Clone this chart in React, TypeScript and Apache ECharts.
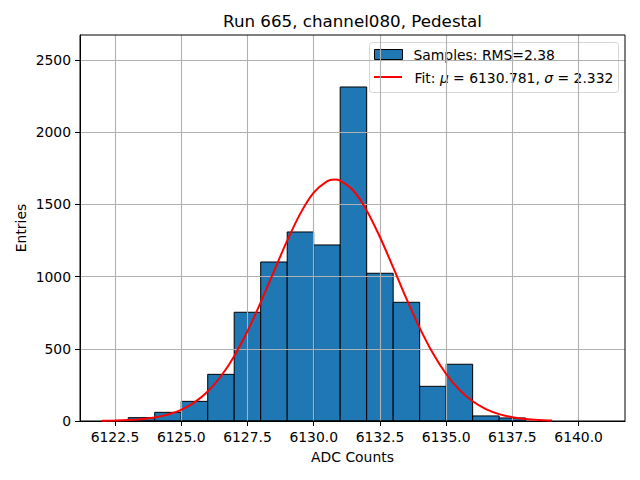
import React, { useEffect, useRef } from "react";
import * as echarts from "echarts";

// Histogram: bin edges (ADC counts) and entries per bin
const binEdges = [6123, 6124, 6125, 6126, 6127, 6128, 6129, 6130, 6131, 6132, 6133, 6134, 6135, 6136, 6137, 6138];
const binCounts = [23, 60, 136, 323, 753, 1101, 1309, 1219, 2313, 1023, 822, 240, 393, 35, 21];

const fitX = [
  6122.0, 6122.5, 6123.0, 6123.5, 6124.0, 6124.5, 6125.0, 6125.5, 6126.0, 6126.5,
  6127.0, 6127.5, 6128.0, 6128.5, 6129.0, 6129.5, 6130.0, 6130.5, 6130.781, 6131.0,
  6131.5, 6132.0, 6132.5, 6133.0, 6133.5, 6134.0, 6134.5, 6135.0, 6135.5, 6136.0,
  6136.5, 6137.0, 6137.5, 6138.0, 6138.5, 6139.0,
];
const fitY = [
  1.4, 3.1, 6.4, 12.8, 24.4, 44.5, 77.4, 128.7, 204.4, 310.0,
  448.9, 621.5, 821.1, 1036.3, 1249.0, 1437.8, 1580.9, 1660.0, 1672.0, 1664.6,
  1594.4, 1458.5, 1274.2, 1063.2, 847.2, 644.9, 468.8, 325.4, 215.7, 136.7,
  82.6, 47.7, 26.3, 13.9, 7.0, 3.4,
];

const xTicks = [6122.5, 6125.0, 6127.5, 6130.0, 6132.5, 6135.0, 6137.5, 6140.0];
const yTicks = [0, 500, 1000, 1500, 2000, 2500];

const titleText = "Run 665, channel080, Pedestal";
const xLabel = "ADC Counts";
const yLabel = "Entries";
const legendSamples = "Samples: RMS=2.38";

const FONT = "DejaVu Sans";

export default function App() {
  const ref = useRef<HTMLDivElement>(null);

  useEffect(() => {
    if (!ref.current) return;
    const chart = echarts.init(ref.current, null, { renderer: "svg" });

    const histData = binCounts.map((c, i) => [binEdges[i], binEdges[i + 1], c]);
    const fitData = fitX.map((x, i) => [x, fitY[i]]);

    const option: any = {
      animation: false,
      backgroundColor: "#ffffff",
      grid: {
        left: 80,
        top: 35,
        width: 545,
        height: 386,
        show: true,
        borderColor: "#000",
        borderWidth: 1,
        backgroundColor: "transparent",
        z: 3,
      },
      xAxis: {
        type: "value",
        min: 6121.18,
        max: 6141.75,
        z: 1,
        axisLine: { show: true, onZero: false, lineStyle: { color: "#000", width: 1 } },
        axisTick: {
          show: true,
          inside: false,
          length: 5,
          customValues: xTicks,
          lineStyle: { color: "#000", width: 1 },
        },
        axisLabel: {
          show: true,
          customValues: xTicks,
          margin: 9,
          color: "#000",
          fontFamily: FONT,
          fontSize: 13.9,
          formatter: (v: number) => v.toFixed(1),
        },
        splitLine: { show: true, lineStyle: { color: "#b0b0b0", width: 1.1 } },
      },
      yAxis: {
        type: "value",
        min: 0,
        max: 2673,
        z: 1,
        axisLine: { show: true, lineStyle: { color: "#000", width: 1 } },
        axisTick: {
          show: true,
          inside: false,
          length: 5,
          customValues: yTicks,
          lineStyle: { color: "#000", width: 1 },
        },
        axisLabel: {
          show: true,
          customValues: yTicks,
          margin: 9,
          color: "#000",
          fontFamily: FONT,
          fontSize: 13.9,
          formatter: (v: number) => String(Math.round(v)),
        },
        splitLine: { show: true, lineStyle: { color: "#b0b0b0", width: 1.1 } },
      },
      series: [
        {
          type: "custom",
          name: "Samples",
          z: 0,
          clip: true,
          data: histData,
          encode: { x: [0, 1], y: 2 },
          renderItem: (params: any, api: any) => {
            const x0 = api.value(0);
            const x1 = api.value(1);
            const y = api.value(2);
            const p0 = api.coord([x0, y]);
            const p1 = api.coord([x1, 0]);
            return {
              type: "rect",
              shape: { x: p0[0], y: p0[1], width: p1[0] - p0[0], height: p1[1] - p0[1] },
              style: { fill: "#1f77b4", stroke: "#000", lineWidth: 1 },
            };
          },
        },
        {
          type: "line",
          name: "Fit",
          z: 5,
          data: fitData,
          showSymbol: false,
          smooth: 0.3,
          lineStyle: { color: "#ff0000", width: 2 },
          itemStyle: { color: "#ff0000" },
        },
      ],
      graphic: [
        {
          type: "text",
          x: 352.5,
          y: 21,
          style: {
            text: titleText,
            fontFamily: FONT,
            fontSize: 16.7,
            fill: "#000",
            textAlign: "center",
            textVerticalAlign: "middle",
          },
        },
        {
          type: "text",
          x: 352.5,
          y: 457,
          style: {
            text: xLabel,
            fontFamily: FONT,
            fontSize: 13.9,
            fill: "#000",
            textAlign: "center",
            textVerticalAlign: "middle",
          },
        },
        {
          type: "text",
          x: 21,
          y: 228,
          rotation: Math.PI / 2,
          style: {
            text: yLabel,
            fontFamily: FONT,
            fontSize: 13.9,
            fill: "#000",
            textAlign: "center",
            textVerticalAlign: "middle",
          },
        },
        {
          type: "group",
          z: 10,
          children: [
            {
              type: "rect",
              shape: { x: 369.5, y: 42.5, width: 249, height: 50, r: 3 },
              style: { fill: "rgba(255,255,255,0.8)", stroke: "#d6d6d6", lineWidth: 1 },
            },
            {
              type: "rect",
              shape: { x: 374.5, y: 49.5, width: 28, height: 10 },
              style: { fill: "#1f77b4", stroke: "#000", lineWidth: 1 },
            },
            {
              type: "text",
              x: 413.5,
              y: 54.5,
              style: {
                text: legendSamples,
                fontFamily: FONT,
                fontSize: 13.9,
                fill: "#000",
                textAlign: "left",
                textVerticalAlign: "middle",
              },
            },
            {
              type: "line",
              shape: { x1: 374, y1: 77, x2: 402, y2: 77 },
              style: { stroke: "#ff0000", lineWidth: 2 },
            },
            {
              type: "text",
              x: 414.5,
              y: 77.5,
              style: {
                text: "{n|Fit: }{i|μ}{n| = 6130.781, }{i|σ}{n| = 2.332}",
                fontFamily: FONT,
                fontSize: 13.9,
                fill: "#000",
                textAlign: "left",
                textVerticalAlign: "middle",
                rich: {
                  n: { fontFamily: FONT, fontSize: 13.9, fill: "#000" },
                  i: { fontFamily: FONT, fontSize: 13.9, fontStyle: "italic", fill: "#000" },
                },
              },
            },
          ],
        },
      ],
    };

    chart.setOption(option);
    return () => chart.dispose();
  }, []);

  return (
    <div
      ref={ref}
      style={{ position: "fixed", left: 0, top: 0, width: 640, height: 480 }}
    />
  );
}
